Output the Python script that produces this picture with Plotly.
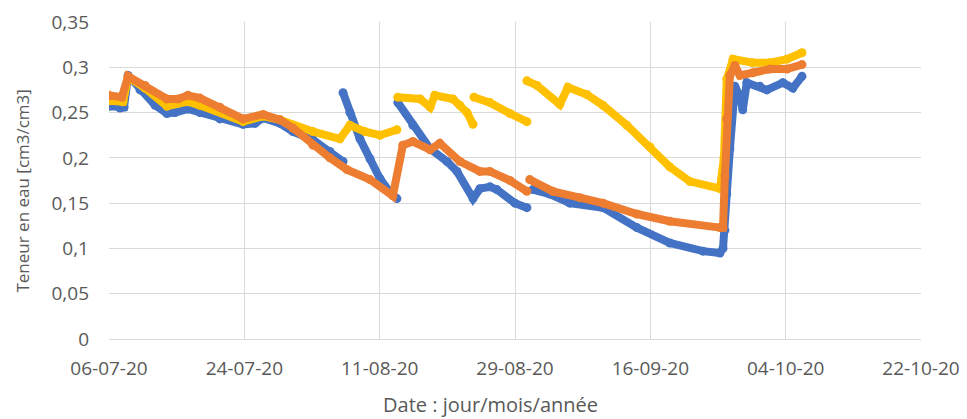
import plotly.graph_objects as go

# --- Data ---
# Series 1 (blue)
blue_time = [
    "2020-07-06 00:00", "2020-07-07 11:00", "2020-07-08 00:00", "2020-07-08 13:00",
    "2020-07-10 03:00", "2020-07-12 03:00", "2020-07-13 17:00", "2020-07-14 19:00",
    "2020-07-16 12:00", "2020-07-18 02:00", "2020-07-20 18:00", "2020-07-23 20:00",
    "2020-07-25 10:00", "2020-07-26 12:00", "2020-07-28 18:00", "2020-07-30 11:00",
    "2020-08-02 03:00", "2020-08-04 09:00", "2020-08-06 03:00",
    None,
    "2020-08-06 03:00", "2020-08-07 01:00", "2020-08-08 09:00", "2020-08-09 17:00",
    "2020-08-11 01:00", "2020-08-12 09:00", "2020-08-13 07:00",
    None,
    "2020-08-13 10:00", "2020-08-15 10:00", "2020-08-17 17:00", "2020-08-19 23:00",
    "2020-08-21 07:00", "2020-08-23 10:00", "2020-08-24 08:00", "2020-08-25 16:00",
    "2020-08-26 14:00", "2020-08-29 00:00", "2020-08-30 14:00",
    None,
    "2020-08-31 09:00", "2020-09-02 15:00", "2020-09-05 07:00", "2020-09-09 17:00",
    "2020-09-14 05:00", "2020-09-18 14:00", "2020-09-23 00:00", "2020-09-25 06:00",
    "2020-09-25 16:00", "2020-09-25 22:00", "2020-09-26 04:00", "2020-09-26 14:00",
    "2020-09-27 00:00", "2020-09-27 06:00", "2020-09-27 22:00", "2020-09-28 07:00",
    "2020-09-28 20:00", "2020-09-30 14:00", "2020-10-01 12:00", "2020-10-03 15:00",
    "2020-10-04 23:00", "2020-10-06 04:00",
]
blue_vals = [
    0.257, 0.255, 0.256, 0.291,
    0.275, 0.258, 0.249, 0.250,
    0.254, 0.250, 0.243, 0.237,
    0.238, 0.244, 0.238, 0.229,
    0.220, 0.207, 0.196,
    None,
    0.272, 0.250, 0.221, 0.199,
    0.177, 0.162, 0.155,
    None,
    0.261, 0.236, 0.210, 0.196,
    0.185, 0.155, 0.166, 0.168,
    0.165, 0.150, 0.145,
    None,
    0.165, 0.160, 0.150, 0.145,
    0.123, 0.106, 0.097, 0.095,
    0.100, 0.120, 0.160, 0.210,
    0.264, 0.279, 0.268, 0.253,
    0.283, 0.279, 0.275, 0.283,
    0.277, 0.290,
]

# Series 2 (orange)
orange_time = [
    "2020-07-06 00:00", "2020-07-07 17:00", "2020-07-08 13:00", "2020-07-10 19:00",
    "2020-07-13 17:00", "2020-07-15 04:00", "2020-07-16 12:00", "2020-07-18 02:00",
    "2020-07-20 18:00", "2020-07-23 20:00", "2020-07-26 12:00", "2020-07-28 18:00",
    "2020-07-30 11:00", "2020-08-02 03:00", "2020-08-04 09:00", "2020-08-06 16:00",
    "2020-08-09 17:00", "2020-08-12 18:00", "2020-08-14 02:00", "2020-08-15 10:00",
    "2020-08-17 17:00", "2020-08-19 00:00", "2020-08-21 16:00", "2020-08-24 08:00",
    "2020-08-25 16:00", "2020-08-28 08:00", "2020-08-30 14:00",
    None,
    "2020-08-30 23:00", "2020-09-03 01:00", "2020-09-06 15:00", "2020-09-09 17:00",
    "2020-09-14 05:00", "2020-09-18 14:00", "2020-09-25 06:00", "2020-09-25 16:00",
    "2020-09-25 22:00", "2020-09-26 04:00", "2020-09-26 14:00", "2020-09-27 06:00",
    "2020-09-27 22:00", "2020-09-29 15:00", "2020-10-01 22:00", "2020-10-04 04:00",
    "2020-10-06 04:00",
]
orange_vals = [
    0.269, 0.267, 0.290, 0.280,
    0.265, 0.265, 0.269, 0.266,
    0.256, 0.243, 0.248, 0.242,
    0.233, 0.214, 0.200, 0.187,
    0.176, 0.158, 0.214, 0.218,
    0.209, 0.216, 0.196, 0.185,
    0.185, 0.175, 0.163,
    None,
    0.176, 0.163, 0.156, 0.150,
    0.138, 0.130, 0.123, 0.123,
    0.180, 0.243, 0.291, 0.302,
    0.291, 0.294, 0.298, 0.298,
    0.303,
]

# Series 3 (yellow)
yellow_time = [
    "2020-07-06 00:00", "2020-07-07 21:00", "2020-07-08 13:00", "2020-07-10 19:00",
    "2020-07-13 17:00", "2020-07-16 12:00", "2020-07-18 02:00", "2020-07-23 20:00",
    "2020-07-26 12:00", "2020-07-28 18:00", "2020-08-02 03:00", "2020-08-05 17:00",
    "2020-08-07 01:00", "2020-08-09 01:00", "2020-08-11 01:00", "2020-08-13 07:00",
    None,
    "2020-08-13 10:00", "2020-08-16 09:00", "2020-08-17 17:00", "2020-08-18 08:00",
    "2020-08-20 18:00", "2020-08-21 16:00", "2020-08-22 15:00", "2020-08-23 10:00",
    None,
    "2020-08-23 13:00", "2020-08-25 16:00", "2020-08-28 08:00", "2020-08-30 14:00",
    None,
    "2020-08-30 14:00", "2020-08-31 22:00", "2020-09-03 23:00", "2020-09-05 01:00",
    "2020-09-07 13:00", "2020-09-09 17:00", "2020-09-12 21:00", "2020-09-15 23:00",
    "2020-09-18 14:00", "2020-09-21 06:00", "2020-09-25 06:00", "2020-09-25 19:00",
    "2020-09-26 04:00", "2020-09-27 00:00", "2020-09-29 15:00", "2020-10-01 22:00",
    "2020-10-04 04:00", "2020-10-06 04:00",
]
yellow_vals = [
    0.263, 0.262, 0.289, 0.277,
    0.257, 0.262, 0.258, 0.240,
    0.246, 0.242, 0.229, 0.221,
    0.236, 0.229, 0.225, 0.231,
    None,
    0.267, 0.265, 0.256, 0.269,
    0.265, 0.258, 0.250, 0.237,
    None,
    0.267, 0.261, 0.249, 0.240,
    None,
    0.285, 0.280, 0.259, 0.278,
    0.270, 0.258, 0.236, 0.212,
    0.190, 0.174, 0.166, 0.200,
    0.287, 0.309, 0.305, 0.305,
    0.309, 0.316,
]

# Axis ticks
x_tick_vals = ["2020-07-06", "2020-07-24", "2020-08-11", "2020-08-29",
               "2020-09-16", "2020-10-04", "2020-10-22"]
x_tick_text = ["06-07-20", "24-07-20", "11-08-20", "29-08-20",
               "16-09-20", "04-10-20", "22-10-20"]
y_tick_vals = [0, 0.05, 0.1, 0.15, 0.2, 0.25, 0.3, 0.35]
y_tick_text = ["0", "0,05", "0,1", "0,15", "0,2", "0,25", "0,3", "0,35"]

y_title = "Teneur en eau [cm3/cm3]"
x_title = "Date : jour/mois/année"

series = [
    (blue_time, blue_vals, "#4472C4"),
    (yellow_time, yellow_vals, "#FFC000"),
    (orange_time, orange_vals, "#ED7D31"),
]

fig = go.Figure()
for t, v, c in series:
    fig.add_trace(go.Scatter(
        x=t, y=v, mode="lines+markers",
        line=dict(color=c, width=8),
        marker=dict(color=c, size=9),
        connectgaps=False, showlegend=False, hoverinfo="skip",
    ))

FONT = "Open Sans"
TXT = "#595959"
GRID = "#d9d9d9"

# page body has an 8px margin: figure is sized/offset so the plot area
# lands where the reference has it
fig.update_layout(
    width=959, height=411,
    margin=dict(l=101, r=46, t=14, b=80),
    paper_bgcolor="white", plot_bgcolor="white",
    font=dict(family=FONT, color=TXT, size=19),
    xaxis=dict(
        range=["2020-07-06", "2020-10-22"],
        tickmode="array", tickvals=x_tick_vals, ticktext=x_tick_text,
        showgrid=True, gridcolor=GRID, gridwidth=1,
        showline=True, linecolor=GRID, linewidth=1,
        zeroline=False, ticks="", ticklabelstandoff=12,
        ticklabeloverflow="allow", automargin=False,
        tickfont=dict(family=FONT, size=19, color=TXT),
    ),
    yaxis=dict(
        range=[0, 0.35],
        tickmode="array", tickvals=y_tick_vals, ticktext=y_tick_text,
        showgrid=True, gridcolor=GRID, gridwidth=1,
        showline=False, zeroline=False, ticks="", ticklabelstandoff=19,
        ticklabeloverflow="allow", automargin=False,
        tickfont=dict(family=FONT, size=19, color=TXT),
    ),
    annotations=[
        dict(text=x_title, xref="paper", yref="paper", x=0.470, y=-0.208,
             xanchor="center", yanchor="middle", showarrow=False,
             font=dict(family=FONT, size=20, color=TXT)),
        dict(text=y_title, xref="paper", yref="paper", x=-0.106, y=0.468,
             xanchor="center", yanchor="middle", showarrow=False, textangle=-90,
             font=dict(family=FONT, size=17, color=TXT)),
    ],
)

fig.write_html("out.html")
